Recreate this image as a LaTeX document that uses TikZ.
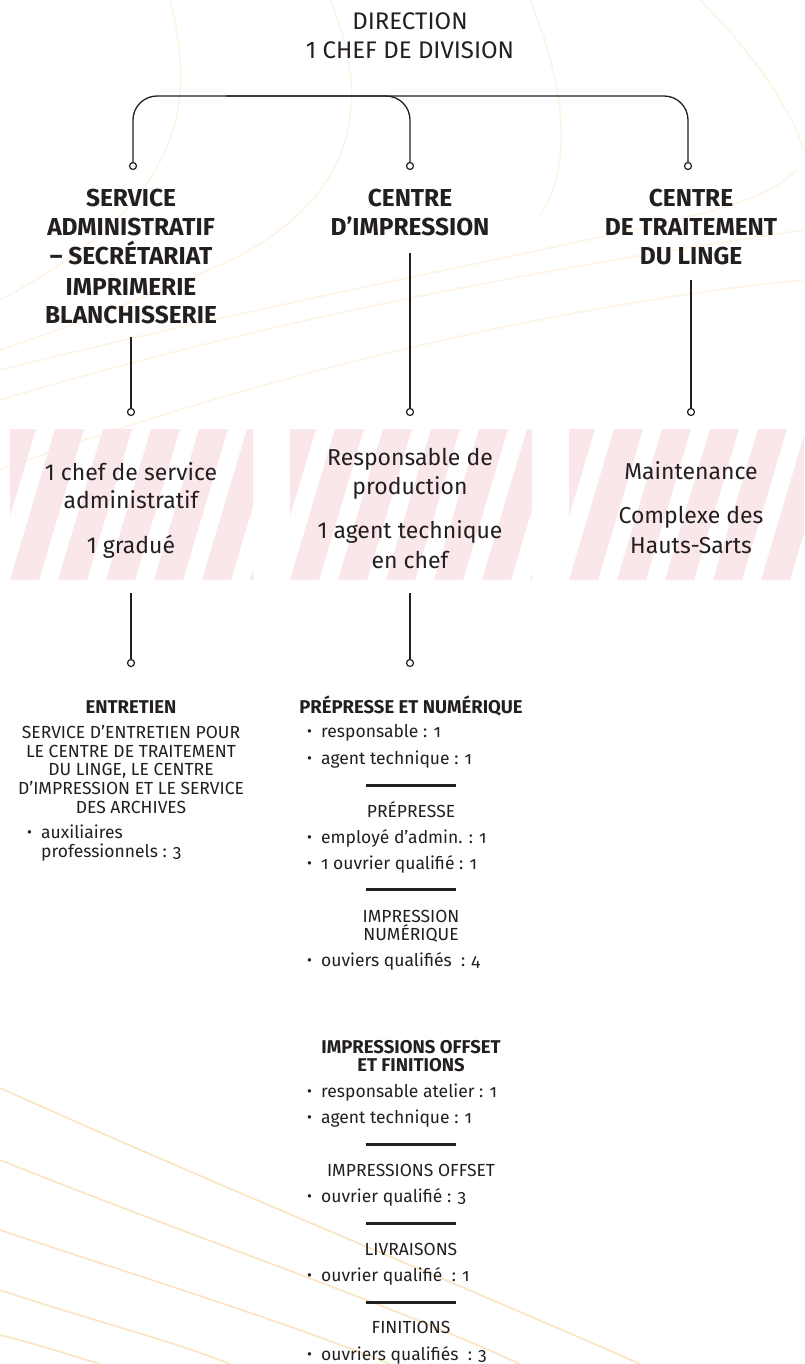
\documentclass[tikz,border=0pt]{standalone}
\usepackage{fontspec}
\setmainfont{Fira Sans}
\newfontfamily\cf{Fira Sans}
\newfontfamily\lf{Fira Sans}[Numbers=OldStyle]
\definecolor{ink}{HTML}{231F20}
\definecolor{stripe}{RGB}{250,231,234}
\definecolor{decoA}{RGB}{254,244,230}
\definecolor{decoB}{RGB}{251,228,192}
\tikzset{
  ttl/.style={font=\cf\fontsize{24}{30}\selectfont, text=ink, anchor=base, inner sep=0pt},
  head/.style={font=\cf\bfseries\fontsize{24.5}{29}\selectfont, text=ink, anchor=base, inner sep=0pt},
  boxtxt/.style={font=\cf\fontsize{23}{28}\selectfont, text=ink, anchor=base, inner sep=0pt},
  sub/.style={font=\lf\bfseries\fontsize{18.5}{19}\selectfont, text=ink, anchor=base, inner sep=0pt},
  capline/.style={font=\lf\fontsize{17.5}{19}\selectfont, text=ink, anchor=base, inner sep=0pt},
  item/.style={font=\lf\fontsize{17.5}{19}\selectfont, text=ink, anchor=base west, inner sep=0pt},
  link/.style={draw=ink, line width=1.3pt},
  dot/.style={circle, draw=ink, fill=white, line width=1.2pt, minimum size=7pt, inner sep=0pt},
  rulebar/.style={draw=ink, line width=3pt},
  decoa/.style={draw=decoA, line width=1.6pt},
  decob/.style={draw=decoB, line width=1.6pt},
}
\newcommand{\bul}{\makebox[14pt][l]{\raisebox{0.5pt}{\fontsize{15}{15}\selectfont•}}}
\begin{document}
\begin{tikzpicture}[x=1pt,y=-1pt]
\useasboundingbox (0,0) rectangle (804,1364);
\fill[white] (0,0) rectangle (804,1364);

% decorative background curves
\draw[decoa] (170,0) .. controls (195,100) and (190,200) .. (0,300);
\draw[decoa] (330,0) .. controls (385,130) and (330,215) .. (220,265) .. controls (140,300) and (60,330) .. (0,350);
\draw[decoa] (530,0) .. controls (575,110) and (565,180) .. (540,215);
\draw[decoa] (700,0) .. controls (760,60) and (790,110) .. (804,150);
\draw[decoa] (797,170) .. controls (760,205) and (700,215) .. (540,250) .. controls (400,280) and (200,320) .. (0,370);
\draw[decoa] (804,230) .. controls (600,260) and (300,310) .. (0,400);
\draw[decoa] (804,280) .. controls (600,300) and (300,360) .. (0,470);
\draw[decob] (0,1088) .. controls (250,1200) and (450,1280) .. (640,1364);
\draw[decob] (0,1160) .. controls (200,1240) and (380,1300) .. (520,1364);
\draw[decob] (0,1230) .. controls (150,1280) and (280,1320) .. (390,1364);
\draw[decob] (0,1290) .. controls (90,1320) and (170,1340) .. (230,1364);
\draw[decob] (0,1335) .. controls (40,1345) and (70,1355) .. (100,1364);

% striped boxes
\foreach \xa/\xb in {10/253, 290/532, 569/804} {
  \begin{scope}
    \clip (\xa,429) rectangle (\xb,580);
    \foreach \k in {-2,...,6} {
      \fill[stripe] ({\xa+\k*48},580) -- ++(29,0) -- ++(45,-151) -- ++(-29,0) -- cycle;
    }
  \end{scope}
}

% top
\node[ttl] (dir1) at (410,30) {DIRECTION};
\node[ttl] (dir2) at (410,59) {1 CHEF DE DIVISION};

\node[dot] (d1) at (133,166) {};
\node[dot] (d2) at (410,166) {};
\node[dot] (d3) at (688,166) {};
\node[dot] (d4) at (131,412) {};
\node[dot] (d5) at (410,412) {};
\node[dot] (d6) at (691,412) {};
\node[dot] (d7) at (131,663) {};
\node[dot] (d8) at (410,663) {};

\coordinate (hb) at (226,96);
\draw[link, rounded corners=24pt] (d1.north) |- (d2.north |- hb) -- (d2.north);
\draw[link, rounded corners=24pt] (hb) -| (d3.north);

% titles
\node[head] (sa1) at (131,207) {SERVICE};
\node[head] (sa2) at (131,236) {ADMINISTRATIF};
\node[head] (sa3) at (131,265) {– SECRÉTARIAT};
\node[head] (sa4) at (131,295) {IMPRIMERIE};
\node[head] (sa5) at (131,323) {BLANCHISSERIE};
\node[head] (ci1) at (410,207) {CENTRE};
\node[head] (ci2) at (410,236) {D’IMPRESSION};
\node[head] (ct1) at (691,207) {CENTRE};
\node[head] (ct2) at (691,236) {DE TRAITEMENT};
\node[head] (ct3) at (691,265) {DU LINGE};

\coordinate (t1b) at (131,337);
\coordinate (t2b) at (410,253);
\coordinate (t3b) at (691,280);
\draw[link] (t1b) -- (d4.north);
\draw[link] (t2b) -- (d5.north);
\draw[link] (t3b) -- (d6.north);

% box texts
\node[boxtxt] (b11) at (131,480) {1 chef de service};
\node[boxtxt] (b12) at (131,508) {administratif};
\node[boxtxt] (b13) at (131,553) {1 gradué};
\node[boxtxt] (b21) at (410,465) {Responsable de};
\node[boxtxt] (b22) at (410,494) {production};
\node[boxtxt] (b23) at (410,538) {1 agent technique};
\node[boxtxt] (b24) at (410,568) {en chef};
\node[boxtxt] (b31) at (691,479) {Maintenance};
\node[boxtxt] (b32) at (691,523) {Complexe des};
\node[boxtxt] (b33) at (691,553) {Hauts-Sarts};

\coordinate (b1b) at (131,593);
\coordinate (b2b) at (410,593);
\draw[link] (b1b) -- (d7.north);
\draw[link] (b2b) -- (d8.north);

% entretien
\node[sub] (en0) at (131,713) {ENTRETIEN};
\node[capline] (en1) at (131,738) {SERVICE D’ENTRETIEN POUR};
\node[capline] (en2) at (131,757) {LE CENTRE DE TRAITEMENT};
\node[capline] (en3) at (131,775) {DU LINGE, LE CENTRE};
\node[capline] (en4) at (131,794) {D’IMPRESSION ET LE SERVICE};
\node[capline] (en5) at (131,813) {DES ARCHIVES};
\node[item] (en6) at (27,838) {\bul auxiliaires};
\node[item] (en7) at (41,857) {professionnels : 3};

% prepresse et numerique
\node[sub] (pn0) at (411,713) {PRÉPRESSE ET NUMÉRIQUE};
\node[item] (pn1) at (307,737) {\bul responsable : 1};
\node[item] (pn2) at (307,764) {\bul agent technique : 1};
\draw[rulebar] (366,785) -- (456,785);
\node[capline] (pn3) at (411,817) {PRÉPRESSE};
\node[item] (pn4) at (307,843) {\bul employé d’admin. : 1};
\node[item] (pn5) at (307,869) {\bul 1 ouvrier qualifié : 1};
\draw[rulebar] (366,889) -- (456,889);
\node[capline] (pn6) at (411,922) {IMPRESSION};
\node[capline] (pn7) at (411,940) {NUMÉRIQUE};
\node[item] (pn8) at (307,966) {\bul ouviers qualifiés\ \ : 4};

% impressions offset et finitions
\node[sub] (of0) at (411,1053) {IMPRESSIONS OFFSET};
\node[sub] (of1) at (411,1071) {ET FINITIONS};
\node[item] (of2) at (307,1097) {\bul responsable atelier : 1};
\node[item] (of3) at (307,1123) {\bul agent technique : 1};
\draw[rulebar] (366,1144) -- (456,1144);
\node[capline] (of4) at (411,1176) {IMPRESSIONS OFFSET};
\node[item] (of5) at (307,1202) {\bul ouvrier qualifié : 3};
\draw[rulebar] (366,1223) -- (456,1223);
\node[capline] (of6) at (411,1255) {LIVRAISONS};
\node[item] (of7) at (307,1281) {\bul ouvrier qualifié\ \ : 1};
\draw[rulebar] (366,1302) -- (456,1302);
\node[capline] (of8) at (411,1333) {FINITIONS};
\node[item] (of9) at (307,1360) {\bul ouvriers qualifiés\ \ : 3};
\end{tikzpicture}
\end{document}
